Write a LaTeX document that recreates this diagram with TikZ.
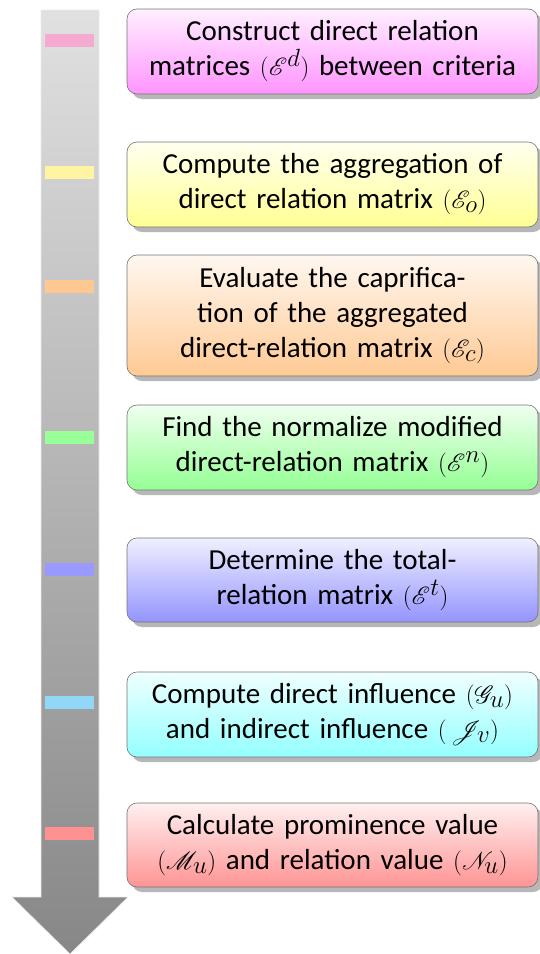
\documentclass[tikz,border=0pt]{standalone}
\usepackage{fontspec}
\setmainfont{Carlito}
\usepackage{mathrsfs}
\DeclareMathSizes{29}{33}{23}{17}
\usetikzlibrary{shadows}
\definecolor{mkpink}{RGB}{245,170,210}
\definecolor{mkyellow}{RGB}{255,245,160}
\definecolor{mkorange}{RGB}{255,200,145}
\definecolor{mkgreen}{RGB}{153,255,153}
\definecolor{mkblue}{RGB}{153,153,255}
\definecolor{mkcyan}{RGB}{145,216,248}
\definecolor{mkred}{RGB}{255,145,145}
\tikzset{
  stepbox/.style={draw=black!55, line width=0.6pt, rounded corners=10pt,
    minimum width=411pt, text width=405pt, align=center, inner sep=0pt,
    font=\fontsize{29}{35}\selectfont,
    top color=#1!6, bottom color=#1!42,
    drop shadow={shadow xshift=5pt, shadow yshift=-5pt, fill=black!40, opacity=0.7}},
  marker/.style={fill=#1, draw=none, minimum width=49pt, minimum height=13pt, inner sep=0pt}
}
\begin{document}
\begin{tikzpicture}[x=1pt,y=-1pt]
\useasboundingbox (0,0) rectangle (539,954);
% arrow
\path[top color=black!12, bottom color=black!47, draw=black!8, line width=0.6pt]
  (41,10) -- (99,10) -- (99,897) -- (128,897) -- (70,954) -- (12,897) -- (41,897) -- cycle;
% markers
\node[marker=mkpink] (m1) at (69,40) {};
\node[marker=mkyellow] (m2) at (69,172) {};
\node[marker=mkorange] (m3) at (69,286) {};
\node[marker=mkgreen] (m4) at (69,437) {};
\node[marker=mkblue] (m5) at (69,569) {};
\node[marker=mkcyan] (m6) at (69,702) {};
\node[marker=mkred] (m7) at (69,833) {};
% boxes
\node[stepbox=magenta, minimum height=85pt] (b1) at (332.5,51.5)
  {Construct direct relation\\matrices $(\mathscr{E}^d)$ between criteria};
\node[stepbox=yellow, minimum height=85pt] (b2) at (332.5,184.5)
  {Compute the aggregation of\\direct relation matrix $(\mathscr{E}_o)$};
\node[stepbox=orange, minimum height=121pt] (b3) at (332.5,315.5)
  {Evaluate the caprifica-\\tion of the aggregated\\direct-relation matrix $(\mathscr{E}_c)$};
\node[stepbox=green, minimum height=85pt] (b4) at (332.5,447.5)
  {Find the normalize modified\\direct-relation matrix $(\mathscr{E}^n)$};
\node[stepbox=blue, minimum height=84pt] (b5) at (332.5,580)
  {Determine the total-\\relation matrix $(\mathscr{E}^t)$};
\node[stepbox=cyan, minimum height=85pt] (b6) at (332.5,714.5)
  {Compute direct influence $(\mathscr{G}_u)$\\and indirect influence $(\,\mathscr{J}_v)$};
\node[stepbox=red, minimum height=84pt] (b7) at (332.5,845)
  {Calculate prominence value\\$(\mathscr{M}_u)$ and relation value $(\mathscr{N}_u)$};
\end{tikzpicture}
\end{document}
